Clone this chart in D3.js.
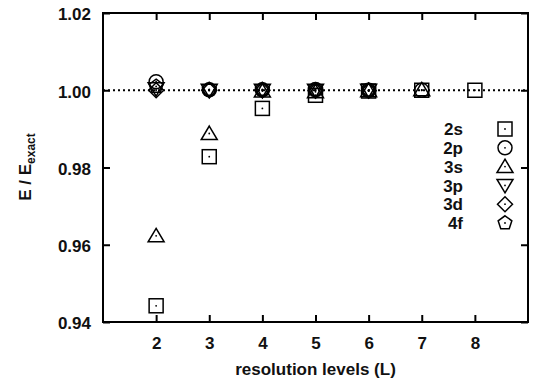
<!DOCTYPE html>
<html><head><meta charset="utf-8">
<script src="https://cdn.jsdelivr.net/npm/d3@7"></script>
<style>body{margin:0;background:#fff}svg{display:block}text{font-family:"Liberation Sans",Arial,sans-serif;font-weight:bold;fill:#111}</style>
</head><body>
<script>
const levels = [2,3,4,5,6,7,8];
const xTicks = [2,3,4,5,6,7,8];
const yTicks = [0.94,0.96,0.98,1.00,1.02];
const seriesNames = ["2s","2p","3s","3p","3d","4f"];
const s2s = [0.9442,0.9828,0.9953,0.9987,0.9998,1.0000,1.0000];
const s2p = [1.0022,1.0001,1.0001,1.0002,1.0000,1.0000,null];
const s3s = [0.9623,0.9888,0.9998,0.9996,0.9999,1.0001,null];
const s3p = [1.0004,1.0000,1.0000,1.0000,1.0000,null,null];
const s3d = [1.0000,1.0000,1.0000,0.9999,0.9999,null,null];
const s4f = [1.0010,1.0002,1.0002,1.0001,1.0000,null,null];
const seriesVals = [s2s,s2p,s3s,s3p,s3d,s4f];

const W=536,H=386;
const m={l:103,r:8,t:13,b:64};
const FS=17;
const svg=d3.select("body").append("svg").attr("width",W).attr("height",H);
const x=d3.scaleLinear().domain([1,9]).range([m.l,W-m.r]);
const y=d3.scaleLinear().domain([0.94,1.02]).range([H-m.b,m.t]);

const g=svg.append("g");
const tl=7;
const ax=g.append("g").attr("transform",`translate(0,${H-m.b})`).call(d3.axisBottom(x).tickValues(xTicks).tickFormat(d3.format("d")).tickSize(-tl).tickPadding(15));
const axT=g.append("g").attr("transform",`translate(0,${m.t})`).call(d3.axisTop(x).tickValues(xTicks).tickFormat("").tickSize(-tl));
const ay=g.append("g").attr("transform",`translate(${m.l},0)`).call(d3.axisLeft(y).tickValues(yTicks).tickFormat(d3.format(".2f")).tickSize(-tl).tickPadding(12));
const ayR=g.append("g").attr("transform",`translate(${W-m.r},0)`).call(d3.axisRight(y).tickValues(yTicks).tickFormat("").tickSize(-tl));
[ax,axT,ay,ayR].forEach(a=>{a.select(".domain").remove();a.selectAll("line").attr("stroke","#000").attr("stroke-width",2);});
[ax,ay].forEach(a=>a.selectAll("text").attr("font-size",FS).style("font-family","Liberation Sans, Arial").style("font-weight","bold").attr("fill","#111"));
ay.selectAll("text").attr("dy","0.4em");
g.append("rect").attr("x",m.l).attr("y",m.t).attr("width",W-m.r-m.l).attr("height",H-m.b-m.t).attr("fill","none").attr("stroke","#000").attr("stroke-width",2);

g.append("line").attr("x1",x(1)).attr("x2",x(9)).attr("y1",y(1)).attr("y2",y(1)).attr("stroke","#000").attr("stroke-width",2).attr("stroke-dasharray","2,3");

function sym(sel){ sel.attr("fill","none").attr("stroke","#000").attr("stroke-width",1.5); }
function drawMarker(parent,k,cx,cy){
  const gg=parent.append("g").attr("transform",`translate(${cx},${cy})`);
  if(k===0) gg.append("rect").attr("x",-7).attr("y",-7).attr("width",14).attr("height",14).call(sym);
  else if(k===1) gg.append("circle").attr("r",7).call(sym);
  else if(k===2) gg.append("path").attr("d","M0,-7.5L8,6L-8,6Z").call(sym);
  else if(k===3) gg.append("path").attr("d","M0,7.5L8,-6L-8,-6Z").call(sym);
  else if(k===4) gg.append("path").attr("d","M0,-7.5L7.5,0L0,7.5L-7.5,0Z").call(sym);
  else {
    const pts=d3.range(5).map(i=>{const a=-Math.PI/2+i*2*Math.PI/5;return [7.2*Math.cos(a),7.2*Math.sin(a)];});
    gg.append("path").attr("d","M"+pts.map(p=>p.join(",")).join("L")+"Z").call(sym);
  }
  gg.append("circle").attr("r",0.9).attr("fill","#000");
}
const pg=g.append("g");
seriesVals.forEach((vals,k)=>{
  vals.forEach((v,i)=>{ if(v!=null) drawMarker(pg,k,x(levels[i]),y(v)); });
});

const lg=g.append("g");
seriesNames.forEach((n,k)=>{
  const yy=129+k*18.8;
  lg.append("text").attr("x",463).attr("y",yy).attr("dy","0.36em").attr("text-anchor","end").attr("font-size",FS).text(n);
  drawMarker(lg,k,505,yy);
});

svg.append("text").attr("x",(m.l+W-m.r)/2).attr("y",375).attr("text-anchor","middle").attr("font-size",FS).text("resolution levels (L)");
const yl=svg.append("text").attr("transform","translate(31,167) rotate(-90)").attr("text-anchor","middle").attr("font-size",FS);
yl.append("tspan").text("E / E");
yl.append("tspan").attr("font-size",12).attr("dy",4).text("exact");
</script>
</body></html>
